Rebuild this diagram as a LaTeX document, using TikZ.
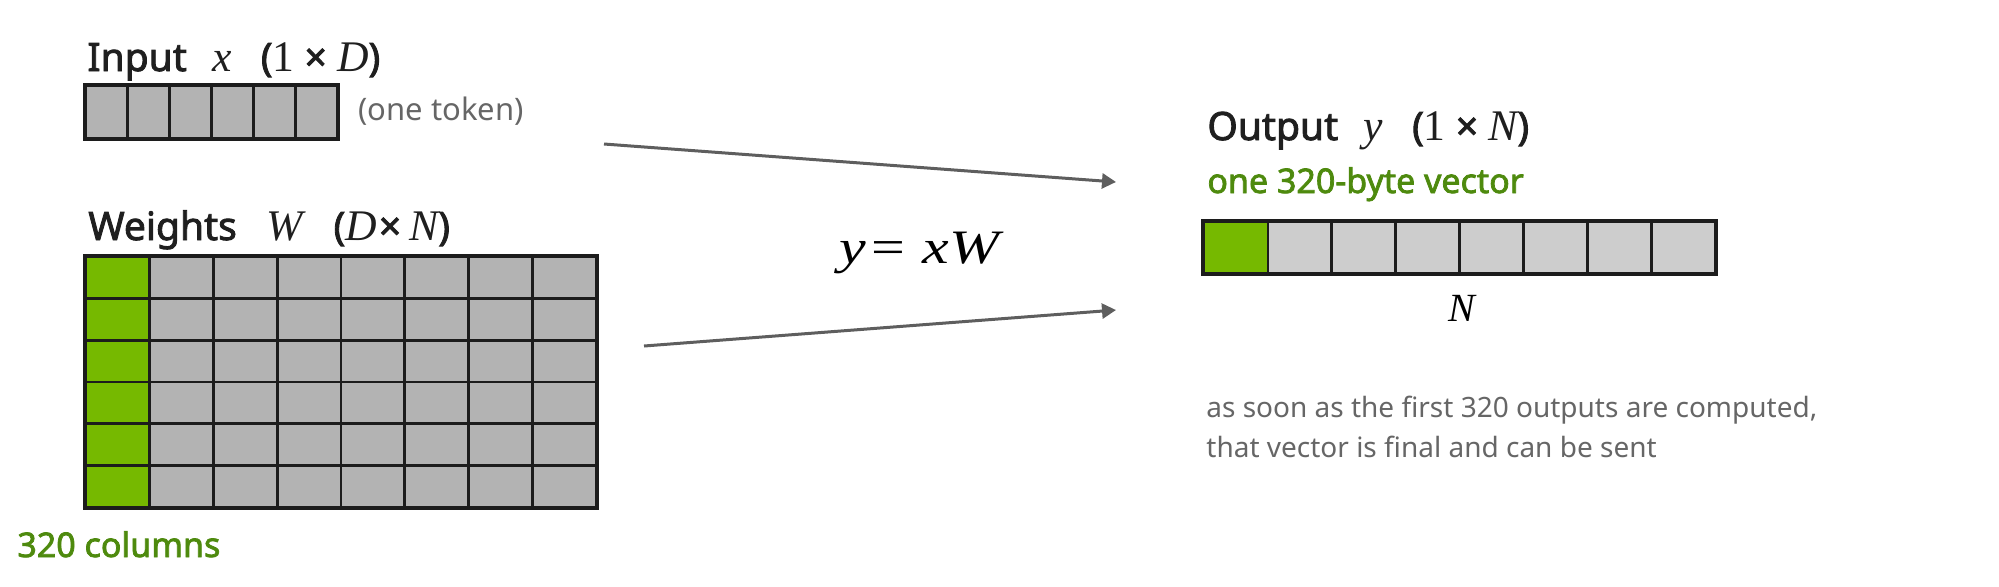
\documentclass[tikz,border=0pt]{standalone}
\usepackage{fontspec}
\setmainfont{Noto Sans}[AutoFakeBold=2.2]
\newfontfamily\serf{Liberation Serif}
\newfontfamily\serfbig{Liberation Serif}[Scale=1.12]
\usetikzlibrary{arrows.meta,positioning}
\definecolor{cellgray}{HTML}{B3B3B3}
\definecolor{outgray}{HTML}{CDCDCD}
\definecolor{nvgreen}{HTML}{76B900}
\definecolor{labelgreen}{HTML}{4E8A0E}
\definecolor{notegray}{HTML}{666666}
\definecolor{arrowgray}{HTML}{5E5E5E}
\definecolor{gridblack}{HTML}{1C1C1C}
\newcommand\mv[1]{{\serf\mdseries\itshape #1}}
\newcommand\mn[1]{{\serf\mdseries\upshape #1}}
\newcommand\tv[1]{{\serfbig\mdseries\itshape #1}}
\newcommand\tn[1]{{\serfbig\mdseries\upshape #1}}
\tikzset{
  cell/.style={draw=gridblack,line width=1.4pt,fill=cellgray,inner sep=0pt},
  incell/.style={cell,minimum width=20.92pt,minimum height=26pt},
  wcell/.style={cell,minimum width=31.875pt,minimum height=20.83pt},
  outcell/.style={cell,fill=outgray,minimum width=31.95pt,minimum height=25.5pt},
  frame/.style={draw=gridblack,line width=1.8pt},
  title/.style={font=\fontsize{19.5}{23}\selectfont\bfseries,text=black!88,inner sep=0pt,anchor=base west},
  greenlabel/.style={font=\fontsize{17}{20}\selectfont\bfseries,text=labelgreen,inner sep=0pt,anchor=base west},
  note/.style={font=\fontsize{14}{17}\selectfont,text=notegray,inner sep=0pt,anchor=base west},
  flow/.style={->,draw=arrowgray,line width=1.5pt},
}
\begin{document}
\begin{tikzpicture}[x=0.5pt,y=-0.5pt,>={Triangle[length=7pt,width=7.5pt]}]
	\useasboundingbox (0,0) rectangle (1999,586);
	% input vector
	\foreach \i in {1,...,6}
		\node[incell] (x\i) at ({86+41.83*(\i-0.5)},112) {};
	\draw[frame] (x1.north west) rectangle (x6.south east);
	\node[title] (xlab) at (87,71) {Input\hspace{.65em}\tv{x}\hspace{.75em}(\tn{1} × \tv{D})};
	\node[note,font=\fontsize{15.5}{18}\selectfont] (tok) at (358,120) {(one token)};
	% weight matrix
	\foreach \r in {1,...,6} {
		\node[wcell,fill=nvgreen] (w\r1) at ({86+63.75*0.5},{257+41.67*(\r-0.5)}) {};
		\foreach \c in {2,...,8}
			\node[wcell] (w\r\c) at ({86+63.75*(\c-0.5)},{257+41.67*(\r-0.5)}) {};
	}
	\draw[frame] (w11.north west) rectangle (w68.south east);
	\node[title] (wlab) at (88,240) {Weights\hspace{.75em}\tv{W}\hspace{.8em}(\tv{D}\kern1pt×\kern4pt\tv{N})};
	\node[greenlabel] (cols) at (17,557) {320 columns};
	% output vector
	\node[outcell,fill=nvgreen] (y1) at ({1204+63.9*0.5},247.5) {};
	\foreach \i in {2,...,8}
		\node[outcell] (y\i) at ({1204+63.9*(\i-0.5)},247.5) {};
	\draw[frame] (y1.north west) rectangle (y8.south east);
	\node[title] (ylab) at (1207,140) {Output\hspace{.65em}\tv{y}\hspace{.75em}(\tn{1} × \tv{N})};
	\node[greenlabel] (vec) at (1207,193) {one 320-byte vector};
	\node[font=\fontsize{20}{24}\selectfont,inner sep=0pt] (nlab) at (1462,308) {\mv{N}};
	\node[font=\fontsize{24}{28}\selectfont,inner sep=0pt,anchor=base west] (eq) at (839,263) {\scalebox{1.25}[1]{\mv{y}\kern2pt\mn{=}\hspace{.3em}\mv{xW}}};
	\node[note] (note1) at (1206,417) {as soon as the first 320 outputs are computed,};
	\node[note] (note2) at ([yshift=-20pt]note1.base west) {that vector is final and can be sent};
	% arrows
	\coordinate (a1) at (604,144);
	\coordinate (a2) at (1116,182);
	\coordinate (b1) at (644,346);
	\coordinate (b2) at (1116,310);
	\draw[flow] (a1) -- (a2);
	\draw[flow] (b1) -- (b2);
\end{tikzpicture}
\end{document}
